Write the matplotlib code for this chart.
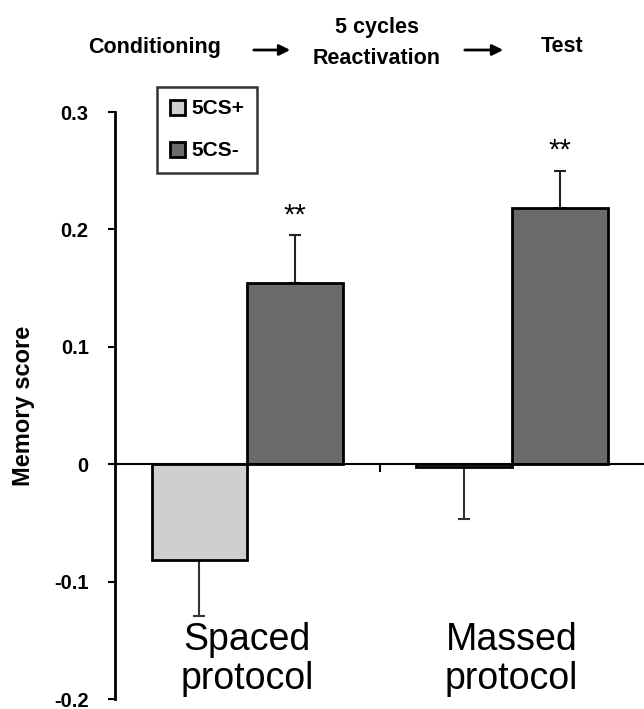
import numpy as np
import matplotlib
matplotlib.use('Agg')
import matplotlib.pyplot as plt

# data
groups = ['Spaced\nprotocol', 'Massed\nprotocol']
series = ['5CS+', '5CS-']
cs_plus = [-0.082, -0.002]
cs_plus_err = [0.047, 0.045]
cs_minus = [0.154, 0.218]
cs_minus_err = [0.041, 0.032]
stars = ['**', '**']

plt.rcParams['font.family'] = ['Liberation Sans', 'DejaVu Sans']

fig = plt.figure(figsize=(6.44, 7.09), dpi=100)
ax = fig.add_axes([0.1786, 0.0141, 0.8214, 0.8279])

x = np.arange(len(groups))
w = 0.362
light = '#cfcfcf'
dark = '#6b6b6b'

ax.bar(x - w/2, cs_plus, w, color=light, edgecolor='black', linewidth=2, label=series[0], zorder=3)
ax.bar(x + w/2, cs_minus, w, color=dark, edgecolor='black', linewidth=2, label=series[1], zorder=3)

# one-sided error bars
ax.errorbar(x - w/2, cs_plus, yerr=[cs_plus_err, np.zeros(2)], fmt='none',
            ecolor='#333333', elinewidth=1.5, capsize=4, capthick=1.5, zorder=2)
ax.errorbar(x + w/2, cs_minus, yerr=[np.zeros(2), cs_minus_err], fmt='none',
            ecolor='#222222', elinewidth=1.5, capsize=4, capthick=1.5, zorder=2)

for i in range(len(groups)):
    ax.text(x[i] + w/2, cs_minus[i] + cs_minus_err[i] + 0.017, stars[i],
            ha='center', va='center', fontsize=21)
    ax.text(x[i], -0.1665, groups[i], ha='center', va='center', fontsize=27,
            linespacing=1.1)

ax.set_xlim(-0.5, 1.5)
ax.set_ylim(-0.2, 0.3)
ax.set_yticks([-0.2, -0.1, 0, 0.1, 0.2, 0.3])
ax.set_yticklabels(['-0.2', '-0.1', '0', '0.1', '0.2', '0.3'], fontweight='bold', fontsize=14.5)
ax.set_xticks([0.5])
ax.set_xticklabels([''])
ax.tick_params(axis='y', direction='out', length=5, width=1.5, pad=14)
ax.tick_params(axis='x', direction='out', length=6, width=1.5)

ax.spines['top'].set_visible(False)
ax.spines['right'].set_visible(False)
ax.spines['left'].set_linewidth(2)
ax.spines['bottom'].set_position(('data', 0))
ax.spines['bottom'].set_linewidth(1.5)
ax.spines['bottom'].set_zorder(4)

ax.set_ylabel('Memory score', fontsize=17, fontweight='bold', labelpad=14)

leg = ax.legend(loc='upper left', bbox_to_anchor=(157/644, 1 - 87/709), bbox_transform=fig.transFigure,
                borderaxespad=0, frameon=True, fancybox=False, edgecolor='black',
                prop={'weight': 'bold', 'size': 15}, handlelength=0.75, handleheight=0.75,
                handletextpad=0.3, labelspacing=1.1, borderpad=0.6)
leg.get_frame().set_linewidth(1.8)

# protocol scheme on top
fig.text(155/644, 1 - 47/709, 'Conditioning', ha='center', va='center', fontsize=15.5, fontweight='bold')
fig.text(377/644, 1 - 28/709, '5 cycles', ha='center', va='center', fontsize=15.5, fontweight='bold')
fig.text(377/644, 1 - 59/709, 'Reactivation', ha='center', va='center', fontsize=15.5, fontweight='bold')
fig.text(562/644, 1 - 47/709, 'Test', ha='center', va='center', fontsize=15.5, fontweight='bold')
for x0, x1 in [(251, 293), (462, 506)]:
    fig.add_artist(matplotlib.patches.FancyArrowPatch((x0/644, 1 - 50/709), (x1/644, 1 - 50/709),
                   transform=fig.transFigure, arrowstyle='-|>', mutation_scale=16, color='black', lw=2))

fig.savefig('out.png', dpi=100)
